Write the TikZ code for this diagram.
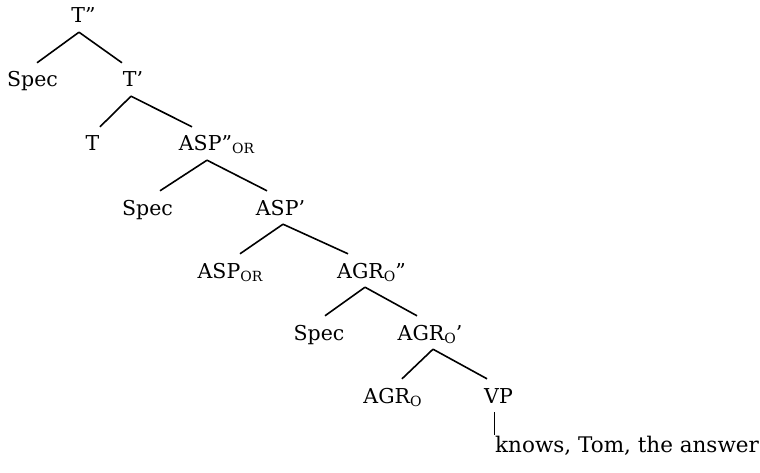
\documentclass[tikz,border=0pt]{standalone}
\usepackage{fontspec}
\setmainfont{DejaVu Serif}
\newcommand{\lsub}[1]{\raisebox{-3pt}{\fontsize{14}{14}\selectfont #1}}

\begin{document}
\begin{tikzpicture}[x=1pt,y=-1pt]
        \useasboundingbox (0,0) rectangle (760,473);

        \begin{scope}[every node/.style={anchor=base,inner xsep=0pt,inner ysep=9pt,text height=15pt,text depth=0pt,font=\fontsize{20.5}{24}\selectfont}]
            \node (Tpp) at (83.5,23) {T''};
            \node (Spec1) at (32.5,87) {Spec};
            \node (Tp) at (133,87) {T'};
            \node (T) at (92.5,151) {T};
            \node (ASPpp) at (216.5,151) {ASP''\lsub{OR}};
            \node (Spec2) at (147.5,215) {Spec};
            \node (ASPp) at (280.5,215) {ASP'};
            \node (ASPor) at (230,278) {ASP\lsub{OR}};
            \node (AGRpp) at (371.5,278) {AGR\lsub{O}''};
            \node (Spec3) at (319,340) {Spec};
            \node (AGRp) at (430,340) {AGR\lsub{O}'};
            \node (AGR) at (392.5,403) {AGR\lsub{O}};
            \node (VP) at (498.5,403) {VP};
            \node[anchor=base west,inner ysep=2pt,font=\fontsize{21.5}{24}\selectfont] (words) at (495,452) {knows, Tom, the answer};
        \end{scope}

        \begin{scope}[line width=1.6pt]
            \path ([xshift=-4.5pt]Tpp.south) edge ([xshift=4.5pt]Spec1.north);
            \path ([xshift=-4.5pt]Tpp.south) edge ([xshift=-11pt]Tp.north);
            \path ([xshift=-2pt]Tp.south) edge ([xshift=7.5pt]T.north);
            \path ([xshift=-2pt]Tp.south) edge ([xshift=-24.5pt]ASPpp.north);
            \path ([xshift=-9.5pt]ASPpp.south) edge ([xshift=12.5pt]Spec2.north);
            \path ([xshift=-9.5pt]ASPpp.south) edge ([xshift=-13.5pt]ASPp.north);
            \path ([xshift=2.5pt]ASPp.south) edge ([xshift=10pt]ASPor.north);
            \path ([xshift=2.5pt]ASPp.south) edge ([xshift=-23.5pt]AGRpp.north);
            \path ([xshift=-6.5pt]AGRpp.south) edge ([xshift=6pt]Spec3.north);
            \path ([xshift=-6.5pt]AGRpp.south) edge ([xshift=-13pt]AGRp.north);
            \path ([xshift=3pt]AGRp.south) edge ([xshift=9.5pt]AGR.north);
            \path ([xshift=3pt]AGRp.south) edge ([xshift=-11.5pt]VP.north);
            \path[line width=1pt] ([xshift=-4.5pt]VP.south) edge ([xshift=-1pt]words.north west);
        \end{scope}

\end{tikzpicture}
\end{document}
